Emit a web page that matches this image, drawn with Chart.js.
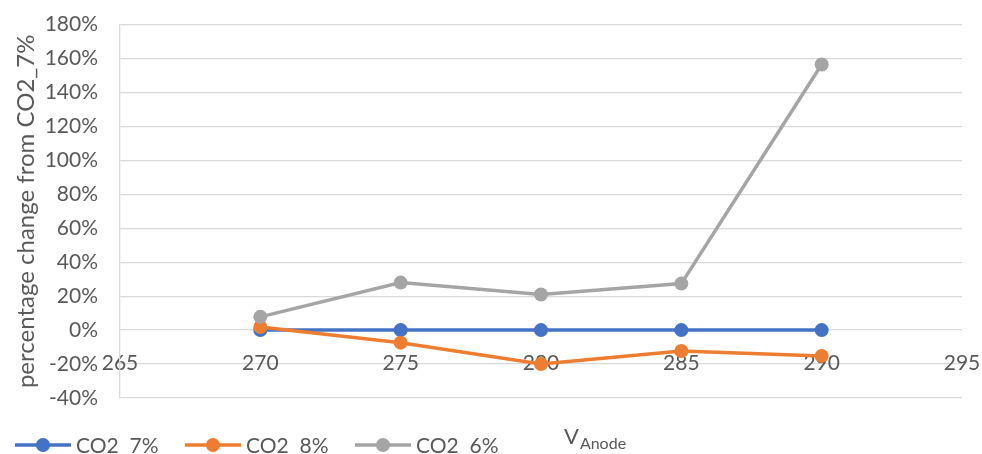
<!DOCTYPE html>
<html lang="en">
<head>
    <meta charset="UTF-8">
    <title>Percentage change from CO2_7%</title>
    <script src="https://cdn.jsdelivr.net/npm/chart.js"></script>
    <style>
        html, body { margin: 0; padding: 0; background: #fff; }
        #wrap { width: 982px; height: 454px; }
    </style>
</head>
<body>
    <div id="wrap"><canvas id="lineChart" width="982" height="454"></canvas></div>

    <script>
        // anode voltages
        var voltages = [270, 275, 280, 285, 290];
        var co2_7 = [0, 0, 0, 0, 0];
        var co2_8 = [0.018, -0.074, -0.20, -0.123, -0.152];
        var co2_6 = [0.078, 0.28, 0.21, 0.274, 1.565];
        var seriesNames = ["CO2  7%", "CO2  8%", "CO2  6%"];
        var seriesColors = ["#4472C4", "#ED7D31", "#A5A5A5"];

        var fontFamily = "Lato, 'Open Sans', sans-serif";
        var textColor = "#595959";

        function toPoints(values) {
            return values.map(function (v, i) { return { x: voltages[i], y: v }; });
        }

        function makeSet(i, values, order) {
            return {
                label: seriesNames[i],
                data: toPoints(values),
                borderColor: seriesColors[i],
                backgroundColor: seriesColors[i],
                borderWidth: 3.5,
                pointRadius: 7,
                pointHoverRadius: 7,
                pointBorderWidth: 0,
                tension: 0,
                order: order
            };
        }

        // legend with line + marker, and the V_Anode axis title with subscript
        var bottomTexts = {
            id: 'bottomTexts',
            afterDraw: function (chart) {
                var ctx = chart.ctx;
                var y = 445;
                var x = 15;
                ctx.save();
                chart.data.datasets.forEach(function (ds) {
                    ctx.strokeStyle = ds.borderColor;
                    ctx.lineWidth = 3.5;
                    ctx.beginPath();
                    ctx.moveTo(x, y);
                    ctx.lineTo(x + 56, y);
                    ctx.stroke();
                    ctx.fillStyle = ds.borderColor;
                    ctx.beginPath();
                    ctx.arc(x + 28, y, 7, 0, Math.PI * 2);
                    ctx.fill();
                    ctx.fillStyle = textColor;
                    ctx.font = "21px " + fontFamily;
                    ctx.textBaseline = "middle";
                    ctx.textAlign = "left";
                    ctx.fillText(ds.label, x + 61, y + 1);
                    x += 170;
                });
                ctx.textBaseline = "alphabetic";
                ctx.font = "22px " + fontFamily;
                ctx.fillText("V", 564, 444);
                var w = ctx.measureText("V").width;
                ctx.font = "16px " + fontFamily;
                ctx.fillText("Anode", 564 + w + 1, 449);
                ctx.restore();
            }
        };

        var ctx = document.getElementById("lineChart").getContext("2d");
        var myChart = new Chart(ctx, {
            type: 'line',
            data: {
                datasets: [
                    makeSet(0, co2_7, 3),
                    makeSet(1, co2_8, 2),
                    makeSet(2, co2_6, 1)
                ]
            },
            options: {
                responsive: false,
                animation: false,
                layout: { padding: { top: 21, right: 20, bottom: 56, left: 0 } },
                plugins: {
                    legend: { display: false },
                    tooltip: { enabled: false }
                },
                scales: {
                    x: {
                        type: 'linear',
                        position: { y: -0.12 },
                        min: 265,
                        max: 295,
                        grid: { display: false, drawTicks: false },
                        border: { display: false },
                        ticks: {
                            stepSize: 5,
                            padding: 0,
                            color: textColor,
                            font: { family: fontFamily, size: 21 }
                        }
                    },
                    y: {
                        min: -0.4,
                        max: 1.8,
                        afterFit: function (scale) { scale.width = 120; },
                        grid: { color: '#D9D9D9', lineWidth: 1.3, drawTicks: true, tickLength: 10, tickColor: 'rgba(0,0,0,0)' },
                        border: { display: true, color: '#D9D9D9', width: 1.3 },
                        ticks: {
                            stepSize: 0.2,
                            padding: 12,
                            color: textColor,
                            font: { family: fontFamily, size: 21 },
                            callback: function (v) { return Math.round(v * 100) + '%'; }
                        },
                        title: {
                            display: true,
                            text: 'percentage change from CO2_7%',
                            color: textColor,
                            font: { family: fontFamily, size: 24 },
                            padding: { top: 12, bottom: 0 }
                        }
                    }
                }
            },
            plugins: [bottomTexts]
        });
    </script>
</body>
</html>
